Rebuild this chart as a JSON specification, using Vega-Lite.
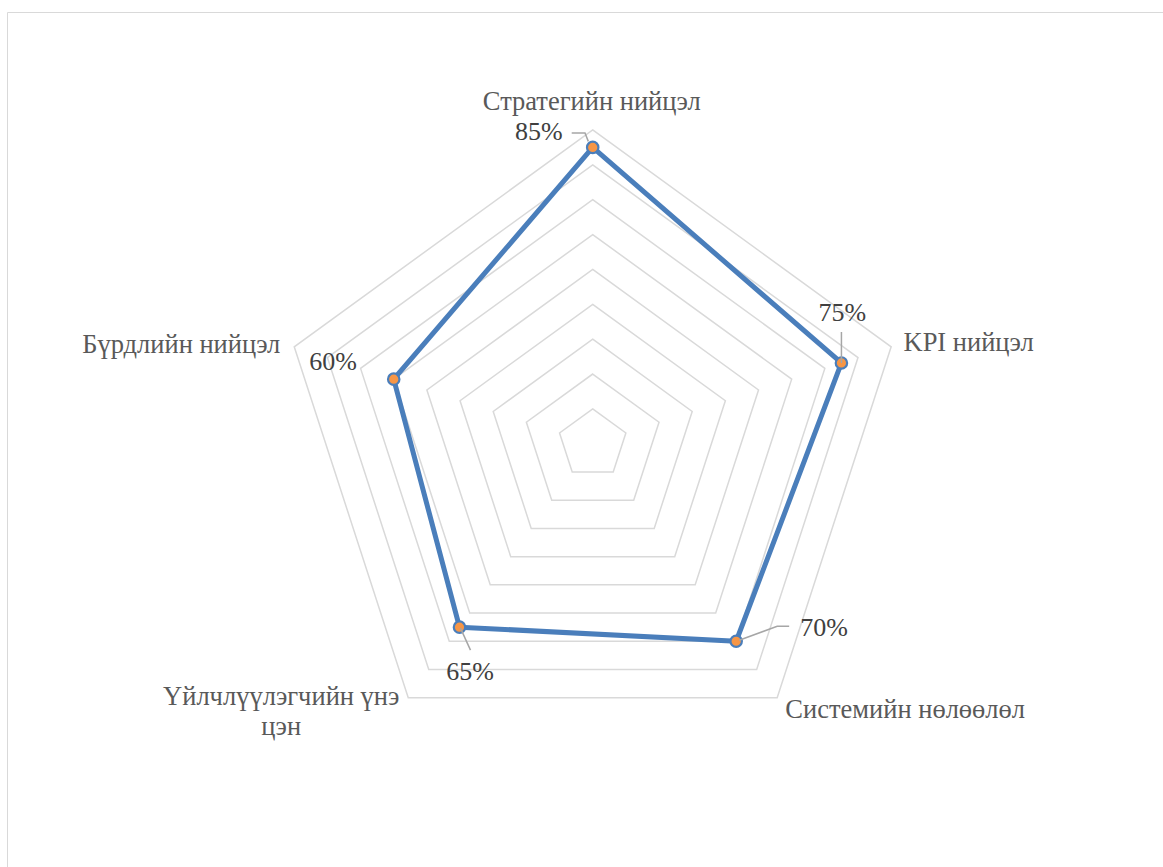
{
  "$schema": "https://vega.github.io/schema/vega-lite/v6.json",
  "width": 1156,
  "height": 855,
  "autosize": {"type": "none"},
  "padding": {"left": 7, "top": 12, "right": 0, "bottom": 0},
  "background": "white",
  "config": {"view": {"stroke": "#d9d9d9", "strokeWidth": 1}},
  "datasets": {
    "scores": [
      {"category": "Стратегийн нийцэл", "order": 0, "value": 85},
      {"category": "KPI нийцэл", "order": 1, "value": 75},
      {"category": "Системийн нөлөөлөл", "order": 2, "value": 70},
      {"category": "Үйлчлүүлэгчийн үнэ цэн", "order": 3, "value": 65},
      {"category": "Бүрдлийн нийцэл", "order": 4, "value": 60}
    ],
    "grid": [
      {"level": 10, "vertex": [0, 1, 2, 3, 4]},
      {"level": 20, "vertex": [0, 1, 2, 3, 4]},
      {"level": 30, "vertex": [0, 1, 2, 3, 4]},
      {"level": 40, "vertex": [0, 1, 2, 3, 4]},
      {"level": 50, "vertex": [0, 1, 2, 3, 4]},
      {"level": 60, "vertex": [0, 1, 2, 3, 4]},
      {"level": 70, "vertex": [0, 1, 2, 3, 4]},
      {"level": 80, "vertex": [0, 1, 2, 3, 4]},
      {"level": 90, "vertex": [0, 1, 2, 3, 4]}
    ]
  },
  "layer": [
    {
      "data": {"name": "grid"},
      "transform": [
        {"flatten": ["vertex"]},
        {"calculate": "PI/2 - 2*PI*datum.vertex/5", "as": "a"},
        {"calculate": "datum.level*cos(datum.a)", "as": "gx"},
        {"calculate": "datum.level*sin(datum.a)", "as": "gy"}
      ],
      "mark": {"type": "line", "interpolate": "linear-closed", "stroke": "#d9d9d9", "strokeWidth": 1.5},
      "encoding": {
        "x": {"field": "gx", "type": "quantitative", "scale": {"domain": [-167.97, 163.55], "nice": false, "zero": false}, "axis": null},
        "y": {"field": "gy", "type": "quantitative", "scale": {"domain": [-121.37, 123.83], "nice": false, "zero": false}, "axis": null},
        "detail": {"field": "level", "type": "nominal"},
        "order": {"field": "vertex", "type": "quantitative"}
      }
    },
    {
      "data": {"name": "scores"},
      "transform": [
        {"calculate": "PI/2 - 2*PI*datum.order/5", "as": "a"},
        {"calculate": "datum.value*cos(datum.a)", "as": "px"},
        {"calculate": "datum.value*sin(datum.a)", "as": "py"}
      ],
      "mark": {"type": "line", "interpolate": "linear-closed", "stroke": "#4a7ebb", "strokeWidth": 5, "strokeJoin": "round"},
      "encoding": {
        "x": {"field": "px", "type": "quantitative", "scale": {"domain": [-167.97, 163.55], "nice": false, "zero": false}, "axis": null},
        "y": {"field": "py", "type": "quantitative", "scale": {"domain": [-121.37, 123.83], "nice": false, "zero": false}, "axis": null},
        "order": {"field": "order", "type": "quantitative"}
      }
    },
    {
      "data": {"name": "scores"},
      "transform": [
        {"calculate": "PI/2 - 2*PI*datum.order/5", "as": "a"},
        {"calculate": "datum.value*cos(datum.a)", "as": "px"},
        {"calculate": "datum.value*sin(datum.a)", "as": "py"}
      ],
      "mark": {"type": "point", "filled": true, "fill": "#f79646", "stroke": "#4a7ebb", "strokeWidth": 2.2, "size": 130, "opacity": 1},
      "encoding": {
        "x": {"field": "px", "type": "quantitative", "scale": {"domain": [-167.97, 163.55], "nice": false, "zero": false}, "axis": null},
        "y": {"field": "py", "type": "quantitative", "scale": {"domain": [-121.37, 123.83], "nice": false, "zero": false}, "axis": null}
      }
    },
    {
      "data": {"name": "scores"},
      "transform": [
        {"calculate": "PI/2 - 2*PI*datum.order/5", "as": "a"},
        {"calculate": "datum.value*cos(datum.a)", "as": "px"},
        {"calculate": "datum.value*sin(datum.a)", "as": "py"},
        {"calculate": "[[-4.4,-7.7,-21],[0,0],[3,41,53],[1,11],[]][datum.order]", "as": "lox"},
        {"calculate": "[[-6,-14.4,-14.4],[0,-31],[-1,-15,-15],[1,23],[]][datum.order]", "as": "loy"},
        {"calculate": "[[0,1,2],[0,1],[0,1,2],[0,1],[]][datum.order]", "as": "li"},
        {"flatten": ["lox", "loy", "li"]},
        {"calculate": "datum.px + datum.lox/3.487", "as": "lx"},
        {"calculate": "datum.py - datum.loy/3.487", "as": "ly"}
      ],
      "mark": {"type": "line", "stroke": "#a6a6a6", "strokeWidth": 1.5},
      "encoding": {
        "x": {"field": "lx", "type": "quantitative", "scale": {"domain": [-167.97, 163.55], "nice": false, "zero": false}, "axis": null},
        "y": {"field": "ly", "type": "quantitative", "scale": {"domain": [-121.37, 123.83], "nice": false, "zero": false}, "axis": null},
        "detail": {"field": "category", "type": "nominal"},
        "order": {"field": "li", "type": "quantitative"}
      }
    },
    {
      "data": {"name": "scores"},
      "transform": [
        {"calculate": "PI/2 - 2*PI*datum.order/5", "as": "a"},
        {"calculate": "90*cos(datum.a) + [-1, 77.4, 128, -127, -113][datum.order]/3.487", "as": "cx"},
        {"calculate": "90*sin(datum.a) - [-28, -3.8, 12.3, -0.7, -1.8][datum.order]/3.487", "as": "cy"},
        {"calculate": "datum.order == 3 ? ['Үйлчлүүлэгчийн үнэ', 'цэн'] : datum.category", "as": "lab"}
      ],
      "mark": {"type": "text", "font": "Liberation Serif", "fontSize": 26.5, "color": "#595959", "align": "center", "baseline": "middle", "lineHeight": 30},
      "encoding": {
        "x": {"field": "cx", "type": "quantitative", "scale": {"domain": [-167.97, 163.55], "nice": false, "zero": false}, "axis": null},
        "y": {"field": "cy", "type": "quantitative", "scale": {"domain": [-121.37, 123.83], "nice": false, "zero": false}, "axis": null},
        "text": {"field": "lab", "type": "nominal"}
      }
    },
    {
      "data": {"name": "scores"},
      "transform": [
        {"calculate": "PI/2 - 2*PI*datum.order/5", "as": "a"},
        {"calculate": "datum.value*cos(datum.a) + [-54, 1, 88, 10.5, -60.7][datum.order]/3.487", "as": "tx"},
        {"calculate": "datum.value*sin(datum.a) - [-15, -49.5, -13, 44.8, -17][datum.order]/3.487", "as": "ty"},
        {"calculate": "datum.value + '%'", "as": "vlab"}
      ],
      "mark": {"type": "text", "font": "Liberation Serif", "fontSize": 26, "color": "#404040", "align": "center", "baseline": "middle"},
      "encoding": {
        "x": {"field": "tx", "type": "quantitative", "scale": {"domain": [-167.97, 163.55], "nice": false, "zero": false}, "axis": null},
        "y": {"field": "ty", "type": "quantitative", "scale": {"domain": [-121.37, 123.83], "nice": false, "zero": false}, "axis": null},
        "text": {"field": "vlab", "type": "nominal"}
      }
    }
  ]
}
